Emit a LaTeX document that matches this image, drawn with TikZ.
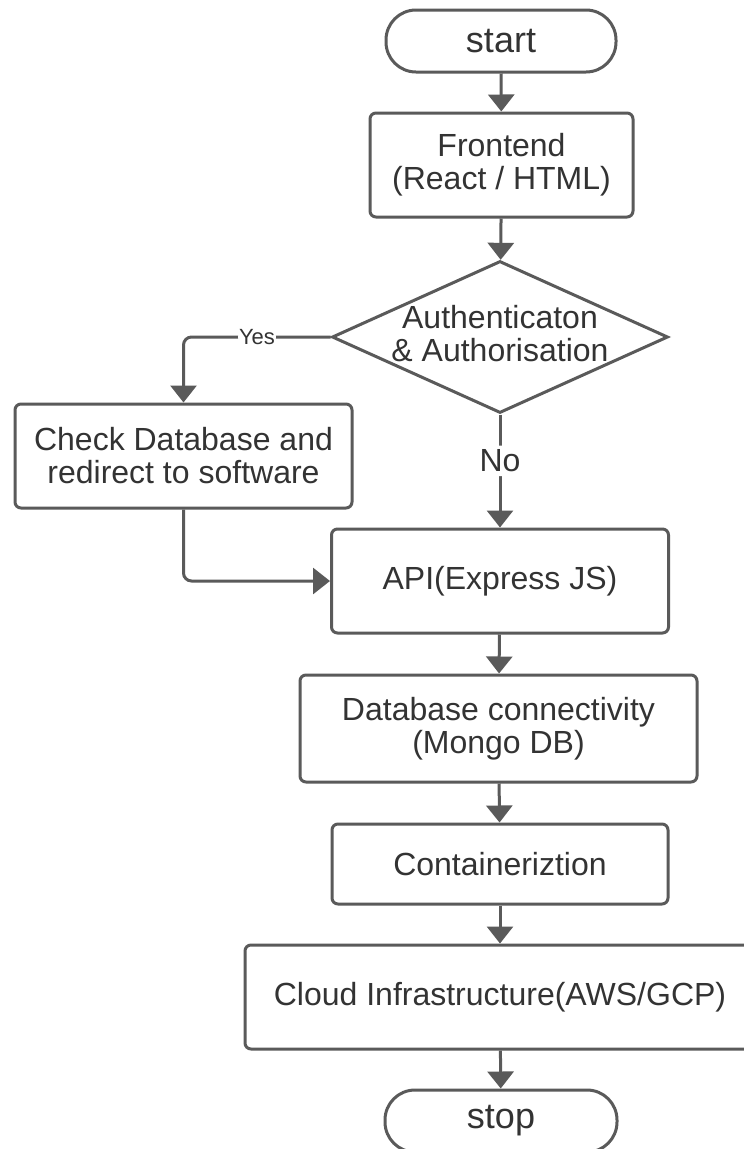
\documentclass[tikz,border=0pt]{standalone}
\usepackage{fontspec}
\setmainfont{Liberation Sans}
\usetikzlibrary{shapes.geometric,arrows.meta}
\definecolor{edge}{HTML}{5A5A5A}
\definecolor{ink}{HTML}{333333}
\begin{document}
\begin{tikzpicture}[x=1pt,y=-1pt,
  every node/.style={text=ink, font=\fontsize{32}{33}\selectfont},
  box/.style={draw=edge, line width=3pt, rectangle, rounded corners=6pt, inner sep=0pt, align=center},
  term/.style={draw=edge, line width=3pt, rectangle, rounded corners=30pt, inner sep=0pt, align=center, font=\fontsize{36}{38}\selectfont},
  conn/.style={draw=edge, line width=3pt, -{Triangle[width=26pt,length=17pt]}, rounded corners=8pt},
  lbl/.style={fill=white, inner sep=2pt}
]
\clip (0,0) rectangle (744,1149);
\fill[white] (0,0) rectangle (744,1149);

\node[term, minimum width=230, minimum height=62] (start) at (501,41) {start};
\node[box, minimum width=263, minimum height=104] (front) at (501.5,165) {\raisebox{-2pt}{\parbox{250pt}{\centering Frontend\\(React / HTML)}}};
\node[diamond, draw=edge, line width=3pt, inner sep=0pt, minimum width=336, minimum height=152] (dec) at (500,337) {};
\node[align=center] (dect) at (500,334) {Authenticaton\\\& Authorisation};
\node[box, minimum width=337, minimum height=104] (chk) at (183.5,456) {Check Database and\\redirect to software};
\node[box, minimum width=337, minimum height=104] (api) at (500,581) {\raisebox{3pt}{API(Express JS)}};
\node[box, minimum width=397, minimum height=107] (db) at (498.5,728.5) {Database connectivity\\(Mongo DB)};
\node[box, minimum width=336, minimum height=80] (cont) at (500,864) {Containeriztion};
\node[box, minimum width=510, minimum height=104] (cloud) at (500,997) {Cloud Infrastructure(AWS/GCP)};
\node[term, minimum width=232, minimum height=62] (stop) at (501,1121) {stop};

\draw[conn] (start) -- (front);
\draw[conn] (front) -- (dec);
\draw[conn] (dec.west) -| node[lbl, pos=0.25, font=\fontsize{22}{24}\selectfont, inner sep=1pt] (yes) {Yes} (chk.north);
\draw[conn] (dec.south) -- node[lbl, pos=0.41, inner sep=4pt] (no) {No} (api.north);
\draw[conn] (chk.south) |- (api.west);
\draw[conn] (api) -- (db);
\draw[conn] (db) -- (cont);
\draw[conn] (cont) -- (cloud);
\draw[conn] (cloud) -- (stop);
\end{tikzpicture}
\end{document}
